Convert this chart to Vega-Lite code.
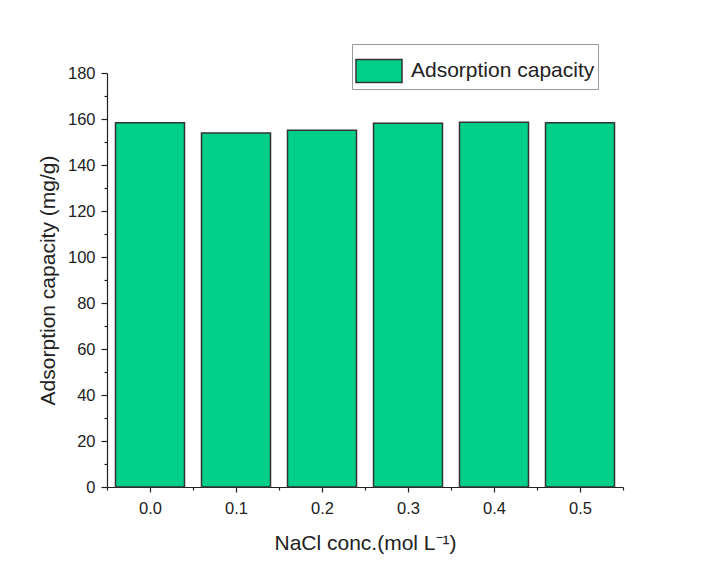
{
  "$schema": "https://vega.github.io/schema/vega-lite/v6.json",
  "width": 516,
  "height": 414,
  "autosize": "none",
  "padding": {"left": 107, "top": 73, "right": 94, "bottom": 90},
  "background": "white",
  "config": {
    "view": {"stroke": null},
    "font": "Liberation Sans",
    "axis": {
      "domainColor": "#222222",
      "domainWidth": 1.2,
      "tickColor": "#222222",
      "tickWidth": 1.2,
      "labelColor": "#222222",
      "titleColor": "#222222",
      "labelFont": "Liberation Sans",
      "titleFont": "Liberation Sans",
      "labelFontSize": 16.5,
      "titleFontSize": 21,
      "titleFontWeight": "normal",
      "grid": false
    }
  },
  "data": {
    "values": [
      {"conc": 0.0, "capacity": 158.4, "series": "Adsorption capacity"},
      {"conc": 0.1, "capacity": 153.9, "series": "Adsorption capacity"},
      {"conc": 0.2, "capacity": 155.1, "series": "Adsorption capacity"},
      {"conc": 0.3, "capacity": 158.2, "series": "Adsorption capacity"},
      {"conc": 0.4, "capacity": 158.6, "series": "Adsorption capacity"},
      {"conc": 0.5, "capacity": 158.4, "series": "Adsorption capacity"}
    ]
  },
  "mark": {"type": "bar", "width": 69, "stroke": "#333333", "strokeWidth": 1.5},
  "encoding": {
    "x": {
      "field": "conc",
      "type": "quantitative",
      "scale": {"domain": [-0.05, 0.55], "nice": false, "zero": false, "padding": 0},
      "axis": {
        "title": "NaCl conc.(mol L⁻¹)",
        "values": [-0.05, 0, 0.05, 0.1, 0.15, 0.2, 0.25, 0.3, 0.35, 0.4, 0.45, 0.5, 0.55],
        "labelExpr": "round(datum.value * 100) % 10 === 0 ? format(datum.value, '.1f') : ''",
        "tickSize": {"condition": {"test": "round(datum.value * 100) % 10 === 0", "value": 5}, "value": 3},
        "labelPadding": 8,
        "titlePadding": 16,
        "labelFlush": false,
        "labelOverlap": false
      }
    },
    "y": {
      "field": "capacity",
      "type": "quantitative",
      "scale": {"domain": [0, 180], "nice": false},
      "axis": {
        "title": "Adsorption capacity (mg/g)",
        "values": [0, 10, 20, 30, 40, 50, 60, 70, 80, 90, 100, 110, 120, 130, 140, 150, 160, 170, 180],
        "labelExpr": "datum.value % 20 === 0 ? datum.label : ''",
        "tickSize": {"condition": {"test": "datum.value % 20 === 0", "value": 6}, "value": 3},
        "labelPadding": 6,
        "titlePadding": 9,
        "labelFlush": false,
        "labelOverlap": false
      }
    },
    "fill": {
      "field": "series",
      "type": "nominal",
      "scale": {"range": ["#00CF8A"]},
      "legend": {
        "title": null,
        "orient": "none",
        "legendX": 245,
        "legendY": -29,
        "strokeColor": "#9a9a9a",
        "padding": 3,
        "symbolType": "M-1,-0.5H1V0.5H-1Z",
        "symbolSize": 2116,
        "symbolStrokeColor": "#333333",
        "symbolStrokeWidth": 1.5,
        "symbolFillColor": "#00CF8A",
        "symbolOpacity": 1,
        "labelFont": "Liberation Sans",
        "labelFontSize": 21,
        "labelLimit": 400,
        "labelColor": "#222222",
        "labelOffset": 8
      }
    }
  }
}
